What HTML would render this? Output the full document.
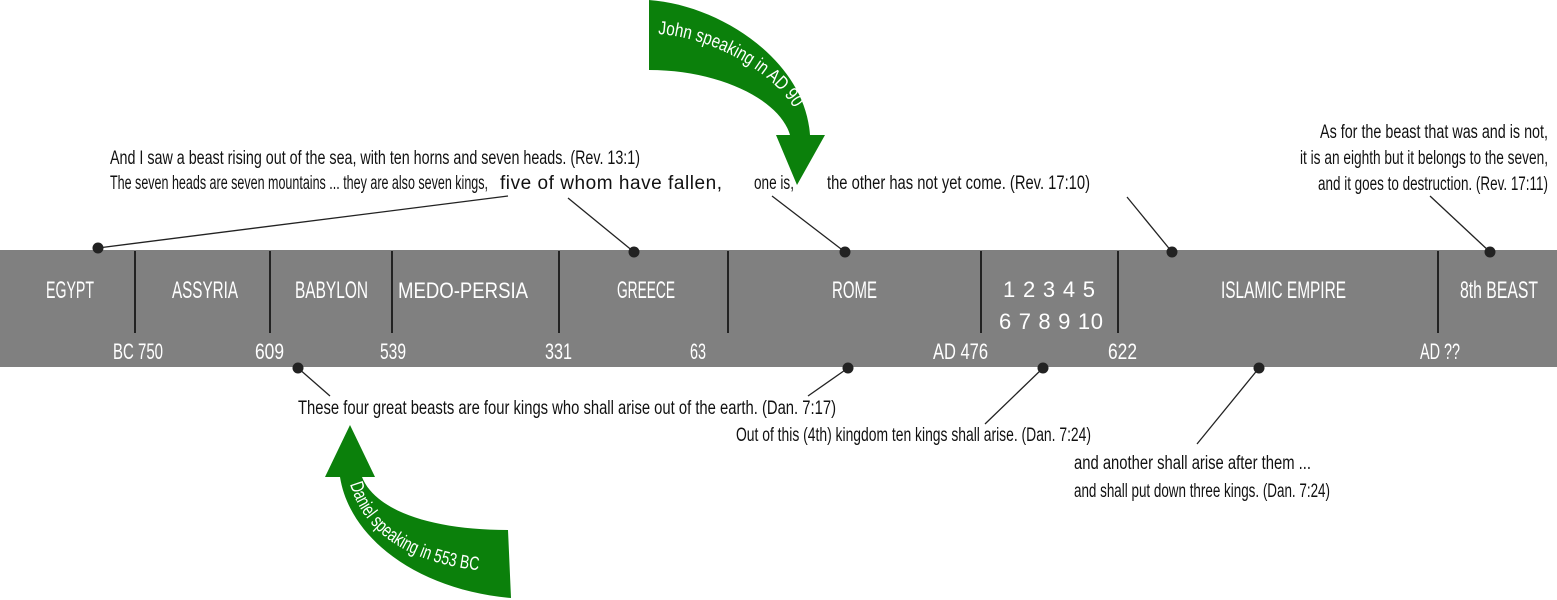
<!DOCTYPE html>
<html><head><meta charset="utf-8"><style>
html,body{margin:0;padding:0;background:#fff;width:1557px;height:600px;overflow:hidden}
svg{display:block}
text{font-family:"Liberation Sans Narrow","Liberation Sans",sans-serif}
.t{font-size:19px;fill:#111}
.b{font-size:24px;fill:#fff}
.n{font-size:22px;fill:#fff}
</style></head><body>
<svg width="1557" height="600" viewBox="0 0 1557 600" xmlns="http://www.w3.org/2000/svg">
<rect x="0" y="250" width="1557" height="117" fill="#808080"/>
<g stroke="#222" stroke-width="2">
<line x1="135" y1="251" x2="135" y2="333"/>
<line x1="270" y1="251" x2="270" y2="333"/>
<line x1="392" y1="251" x2="392" y2="333"/>
<line x1="559" y1="251" x2="559" y2="333"/>
<line x1="728" y1="251" x2="728" y2="333"/>
<line x1="981" y1="251" x2="981" y2="333"/>
<line x1="1118" y1="251" x2="1118" y2="333"/>
<line x1="1438" y1="251" x2="1438" y2="333"/>
</g>
<g class="b">
<text x="46" y="298" textLength="48" lengthAdjust="spacingAndGlyphs">EGYPT</text>
<text x="172" y="298" textLength="66" lengthAdjust="spacingAndGlyphs">ASSYRIA</text>
<text x="295" y="298" textLength="73" lengthAdjust="spacingAndGlyphs">BABYLON</text>
<text x="398" y="298" textLength="130" lengthAdjust="spacingAndGlyphs" font-size="22">MEDO-PERSIA</text>
<text x="617" y="298" textLength="58" lengthAdjust="spacingAndGlyphs">GREECE</text>
<text x="832" y="298" textLength="45" lengthAdjust="spacingAndGlyphs">ROME</text>
<text x="1221" y="298" textLength="125" lengthAdjust="spacingAndGlyphs">ISLAMIC EMPIRE</text>
<text x="1460" y="298" textLength="78" lengthAdjust="spacingAndGlyphs">8th BEAST</text>
<text x="1003" y="297" textLength="92" lengthAdjust="spacing" font-size="22">1 2 3 4 5</text>
<text x="999" y="329" textLength="104" lengthAdjust="spacing" font-size="22">6 7 8 9 10</text>
</g>
<g class="n">
<text x="113" y="359" textLength="50" lengthAdjust="spacingAndGlyphs">BC 750</text>
<text x="255" y="359" textLength="29" lengthAdjust="spacingAndGlyphs">609</text>
<text x="380" y="359" textLength="26" lengthAdjust="spacingAndGlyphs">539</text>
<text x="545" y="359" textLength="27" lengthAdjust="spacingAndGlyphs">331</text>
<text x="690" y="359" textLength="16" lengthAdjust="spacingAndGlyphs">63</text>
<text x="933" y="359" textLength="55" lengthAdjust="spacingAndGlyphs">AD 476</text>
<text x="1108" y="359" textLength="29" lengthAdjust="spacingAndGlyphs">622</text>
<text x="1420" y="359" textLength="40" lengthAdjust="spacingAndGlyphs">AD ??</text>
</g>
<g stroke="#222" stroke-width="1.3">
<line x1="98" y1="248" x2="508" y2="196"/>
<line x1="634" y1="252" x2="568" y2="198"/>
<line x1="845" y1="252" x2="772" y2="196"/>
<line x1="1172" y1="252" x2="1127" y2="197"/>
<line x1="1490" y1="252" x2="1430" y2="196"/>
<line x1="298" y1="368" x2="330" y2="396"/>
<line x1="848" y1="368" x2="808" y2="396"/>
<line x1="1043" y1="368" x2="985" y2="424"/>
<line x1="1259" y1="368" x2="1197" y2="444"/>
</g>
<g fill="#222">
<circle cx="98" cy="248" r="5.5"/><circle cx="634" cy="252" r="5.5"/><circle cx="845" cy="252" r="5.5"/>
<circle cx="1172" cy="252" r="5.5"/><circle cx="1490" cy="252" r="5.5"/>
<circle cx="298" cy="368" r="5.5"/><circle cx="848" cy="368" r="5.5"/><circle cx="1043" cy="368" r="5.5"/><circle cx="1259" cy="368" r="5.5"/>
</g>
<g class="t">
<text x="110" y="164" textLength="530" lengthAdjust="spacingAndGlyphs">And I saw a beast rising out of the sea, with ten horns and seven heads. (Rev. 13:1)</text>
<text x="110" y="189" textLength="378" lengthAdjust="spacingAndGlyphs">The seven heads are seven mountains ... they are also seven kings,</text>
<text x="500" y="189" textLength="222" lengthAdjust="spacing">five of whom have fallen,</text>
<text x="754" y="189" textLength="40" lengthAdjust="spacingAndGlyphs">one is,</text>
<text x="827" y="189" textLength="263" lengthAdjust="spacingAndGlyphs">the other has not yet come. (Rev. 17:10)</text>
<text x="1320" y="138" textLength="228" lengthAdjust="spacingAndGlyphs">As for the beast that was and is not,</text>
<text x="1300" y="164" textLength="248" lengthAdjust="spacingAndGlyphs">it is an eighth but it belongs to the seven,</text>
<text x="1318" y="190" textLength="230" lengthAdjust="spacingAndGlyphs">and it goes to destruction. (Rev. 17:11)</text>
<text x="298" y="414" textLength="538" lengthAdjust="spacingAndGlyphs">These four great beasts are four kings who shall arise out of the earth. (Dan. 7:17)</text>
<text x="736" y="441" textLength="355" lengthAdjust="spacingAndGlyphs">Out of this (4th) kingdom ten kings shall arise. (Dan. 7:24)</text>
<text x="1074" y="469" textLength="237" lengthAdjust="spacingAndGlyphs">and another shall arise after them ...</text>
<text x="1074" y="497" textLength="256" lengthAdjust="spacingAndGlyphs">and shall put down three kings. (Dan. 7:24)</text>
</g>
<path d="M649,0 C720,5 805,60 810,135 L825,135 L797,185 L776,135 L790,135 C780,100 720,70 649,70 Z" fill="#0b800b"/>
<path d="M350,425 L375,477 L362,477 C375,510 430,530 508,530 L511,598 C420,590 350,540 340,477 L325,477 Z" fill="#0b800b"/>
<defs>
<path id="p1" d="M658,34 C720,38 785,80 800,120"/>
<path id="p2" d="M350,484 C366,540 420,568 500,572"/>
</defs>
<text font-size="19" fill="#fff"><textPath href="#p1" textLength="160" lengthAdjust="spacingAndGlyphs">John speaking in AD 90</textPath></text>
<text font-size="19" fill="#fff"><textPath href="#p2" textLength="165" lengthAdjust="spacingAndGlyphs">Daniel speaking in 553 BC</textPath></text>
</svg>
</body></html>
